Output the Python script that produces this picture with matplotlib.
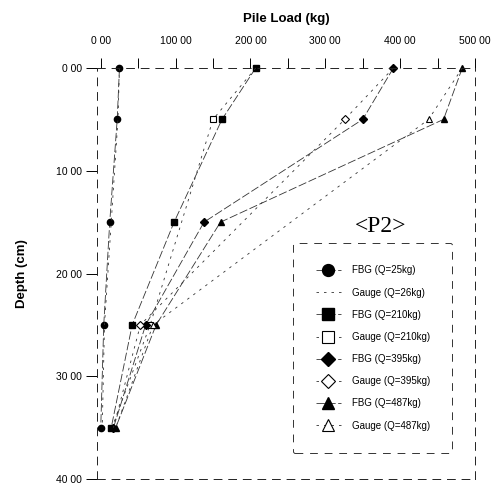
import matplotlib
matplotlib.use("Agg")
import matplotlib.pyplot as plt
from matplotlib.ticker import FixedLocator, FuncFormatter, MultipleLocator

# ---- data ----
fbg_depth = [0, 5, 15, 25, 35]
fbg_25 = [25, 22, 12, 4, 0]
fbg_210 = [207, 162, 98, 42, 14]
fbg_395 = [391, 350, 138, 60, 17]
fbg_487 = [483, 458, 160, 74, 20]

gauge_depth = [0, 5, 25, 35]
gauge_26 = [25, 23, 5, 2]
gauge_210 = [207, 150, 66, 15]
gauge_395 = [391, 326, 53, 17]
gauge_487 = [483, 438, 70, 20]

x_ticks = [0, 100, 200, 300, 400, 500]
y_ticks = [0, 10, 20, 30, 40]

plt.rcParams['font.family'] = ['Liberation Sans', 'DejaVu Sans']

fig = plt.figure(figsize=(4.96, 4.86), dpi=100)
ax = fig.add_axes([97/496, 1-479/486, 378/496, 411/486])

lc = '#333333'
fbg_ls = (0, (10, 3))
g_ls = (0, (3, 6))
ms = 4.5

ax.plot(fbg_25, fbg_depth, color=lc, lw=0.6, ls=fbg_ls, marker='o', ms=ms,
        mfc='black', mec='black', label='FBG (Q=25kg)', clip_on=False)
ax.plot(gauge_26, gauge_depth, color=lc, lw=0.6, ls=g_ls, marker=None,
        label='Gauge (Q=26kg)', clip_on=False)
ax.plot(fbg_210, fbg_depth, color=lc, lw=0.6, ls=fbg_ls, marker='s', ms=ms,
        mfc='black', mec='black', label='FBG (Q=210kg)', clip_on=False)
ax.plot(gauge_210, gauge_depth, color=lc, lw=0.6, ls=g_ls, marker='s', ms=ms,
        mfc='white', mec='black', mew=0.8, markevery=[1, 2],
        label='Gauge (Q=210kg)', clip_on=False)
ax.plot(fbg_395, fbg_depth, color=lc, lw=0.6, ls=fbg_ls, marker='D', ms=ms-0.5,
        mfc='black', mec='black', label='FBG (Q=395kg)', clip_on=False)
ax.plot(gauge_395, gauge_depth, color=lc, lw=0.6, ls=g_ls, marker='D', ms=ms-0.5,
        mfc='white', mec='black', mew=0.8, markevery=[1, 2],
        label='Gauge (Q=395kg)', clip_on=False)
ax.plot(fbg_487, fbg_depth, color=lc, lw=0.6, ls=fbg_ls, marker='^', ms=ms,
        mfc='black', mec='black', label='FBG (Q=487kg)', clip_on=False)
ax.plot(gauge_487, gauge_depth, color=lc, lw=0.6, ls=g_ls, marker='^', ms=ms,
        mfc='white', mec='black', mew=0.8, markevery=[1, 2],
        label='Gauge (Q=487kg)', clip_on=False)

ax.set_xlim(-5, 500)
ax.set_ylim(40, 0)

ax.xaxis.tick_top()
ax.xaxis.set_label_position('top')
ax.xaxis.set_major_locator(FixedLocator(x_ticks))
ax.xaxis.set_minor_locator(MultipleLocator(50))
ax.yaxis.set_major_locator(FixedLocator(y_ticks))
fmt = FuncFormatter(lambda v, p: f"{v:.2f}".replace('.', ' '))
ax.xaxis.set_major_formatter(fmt)
ax.yaxis.set_major_formatter(fmt)
ax.tick_params(axis='x', which='major', direction='out', length=7, width=0.7,
               labelsize=7.5, pad=9)
ax.tick_params(axis='x', which='minor', direction='out', length=7, width=0.7)
ax.tick_params(axis='y', which='major', direction='out', length=8, width=0.7,
               labelsize=7.5, pad=3)

for s in ax.spines.values():
    s.set_linewidth(0.7)
    s.set_linestyle((0, (8, 7)))
    s.set_color('#222222')

ax.set_xlabel('Pile Load (kg)', fontsize=9.5, fontweight='bold', labelpad=10)
ax.set_ylabel('Depth (cm)', fontsize=9.5, fontweight='bold', labelpad=20)

ax.text(0.75, 0.615, '<P2>', transform=ax.transAxes, ha='center', va='center',
        fontsize=17, family=['Liberation Serif', 'DejaVu Serif'])

leg = ax.legend(loc='upper left', bbox_to_anchor=(0.519, 0.574), borderaxespad=0,
                fontsize=7, labelspacing=1.25, borderpad=2.3, handlelength=2.6,
                handletextpad=1.1, markerscale=1.9, fancybox=True, framealpha=1,
                edgecolor='#333333')
leg.get_frame().set_linestyle((0, (8, 7)))
leg.get_frame().set_linewidth(0.7)

fig.savefig('out.png', dpi=100)
